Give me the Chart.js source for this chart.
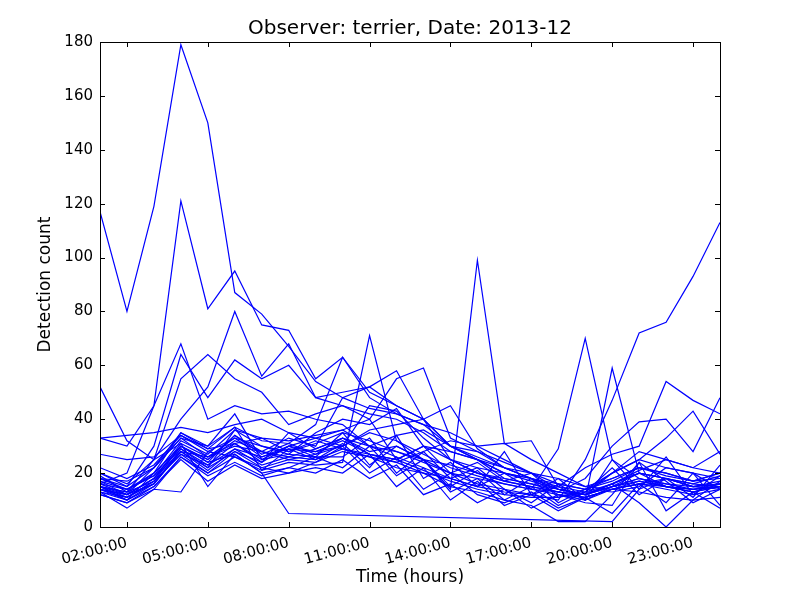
<!DOCTYPE html>
<html>
<head>
<meta charset="utf-8">
<script src="https://cdn.jsdelivr.net/npm/chart.js@4/dist/chart.umd.min.js"></script>
<style>
  html, body { margin: 0; padding: 0; background: #fff; }
  #wrap { width: 800px; height: 600px; }
</style>
</head>
<body>
<div id="wrap"><canvas id="chart" width="800" height="600"></canvas></div>
<script>
// ─── Data ─────────────────────────────────────────────
const hours   = [1, 2, 3, 4, 5, 6, 7, 8, 9, 10, 11, 12, 13, 14, 15, 16, 17, 18, 19, 20, 21, 22, 23, 24]
const xTicks  = [2, 5, 8, 11, 14, 17, 20, 23]
const yTicks  = [0, 20, 40, 60, 80, 100, 120, 140, 160, 180]

const d01 = [117, 80, 119, 179, 150, 87, 79, 67, 54, 48, 44, 42, 38, 35, 30, 25, 20, 18, 15, 14, 16, 15, 13, 15]
const d02 = [16, 20, 45, 121, 81, 95, 75, 73, 55, 63, 50, 45, 40, 30, 28, 22, 18, 14, 12, 16, 20, 18, 15, 16]
const d03 = [52, 32, 25, 40, 52, 80, 56, 68, 48, 45, 42, 40, 35, 28, 25, 22, 20, 16, 14, 18, 22, 20, 17, 18]
const d04 = [33, 30, 45, 68, 40, 45, 42, 43, 40, 38, 30, 34, 36, 30, 25, 20, 18, 15, 13, 20, 25, 22, 20, 18]
const d05 = [18, 15, 30, 64, 48, 62, 55, 60, 48, 50, 52, 45, 40, 30, 26, 22, 18, 12, 10, 15, 20, 18, 16, 15]
const d06 = [15, 13, 25, 55, 64, 55, 50, 38, 42, 45, 40, 55, 59, 33, 28, 24, 20, 14, 12, 20, 28, 25, 22, 20]
const d07 = [20, 15, 22, 33, 26, 30, 28, 25, 27, 30, 35, 32, 25, 14, 99, 31, 32, 15, 10, 14, 16, 14, 12, 14]
const d08 = [14, 10, 20, 30, 25, 32, 28, 26, 29, 33, 30, 26, 22, 18, 15, 20, 14, 29, 70, 25, 18, 15, 13, 16]
const d09 = [17, 12, 18, 28, 22, 28, 24, 30, 26, 26, 33, 20, 28, 18, 22, 14, 9, 16, 10, 59, 20, 15, 14, 15]
const d10 = [15, 13, 20, 30, 24, 34, 27, 31, 27, 33, 28, 30, 25, 20, 16, 14, 12, 10, 25, 47, 72, 76, 93, 113]
const d11 = [13, 11, 17, 27, 20, 28, 22, 25, 24, 28, 26, 22, 20, 18, 15, 13, 12, 15, 22, 27, 30, 54, 47, 42]
const d12 = [18, 14, 19, 32, 27, 36, 30, 28, 31, 35, 32, 28, 24, 20, 18, 16, 14, 13, 18, 30, 39, 40, 28, 48]
const d13 = [14, 11, 16, 29, 23, 31, 25, 27, 26, 35, 23, 30, 25, 15, 21, 12, 18, 9, 14, 20, 25, 33, 43, 27]
const d14 = [16, 12, 18, 31, 26, 33, 26, 29, 28, 32, 27, 25, 21, 17, 14, 12, 11, 11, 13, 16, 9, 0, 10, 17]
const d15 = [19, 13, 17, 30, 24, 27, 20, 5, null, null, null, null, null, null, null, null, null, null, null, 2, 14, 18, 15, 16]
const d16 = [15, 10, 16, 28, 21, 29, 23, 26, 25, 29, 27, 24, 20, 15, 13, 10, 8, 2, 2, 12, 24, 17, 9, 14]
const d17 = [12, 9, 15, 26, 20, 26, 21, 24, 23, 24, 71, 32, 27, 22, 19, 16, 14, 12, 11, 14, 17, 15, 13, 15]
const d18 = [17, 14, 20, 35, 29, 37, 32, 31, 38, 63, 48, 42, 38, 30, 25, 20, 17, 14, 12, 16, 20, 18, 16, 19]
const d19 = [14, 12, 18, 30, 25, 34, 28, 33, 30, 48, 52, 58, 40, 25, 20, 17, 15, 13, 12, 15, 18, 16, 14, 16]
const d20 = [15, 11, 17, 27, 23, 29, 26, 30, 28, 30, 36, 38, 40, 45, 29, 22, 18, 14, 12, 15, 17, 15, 14, 15]
const d21 = [33, 34, 35, 37, 35, 38, 40, 35, 33, 30, 45, 43, 33, 25, 22, 20, 18, 16, 14, 13, 15, 22, 20, 14]
const d22 = [13, 7, 14, 26, 19, 24, 19, 22, 20, 25, 18, 23, 12, 16, 9, 14, 7, 12, 9, 8, 24, 6, 13, 7]
const d23 = [15, 12, 22, 35, 30, 42, 25, 30, 33, 36, 30, 28, 25, 23, 20, 18, 16, 13, 11, 14, 16, 18, 15, 17]
const d24 = [20, 16, 25, 31, 15, 27, 20, 22, 26, 22, 30, 19, 25, 13, 18, 10, 15, 8, 13, 22, 12, 18, 11, 23]
const d25 = [12, 9, 14, 13, 28, 26, 22, 20, 24, 30, 20, 26, 14, 20, 12, 9, 13, 7, 11, 14, 13, 11, 10, 11]
const d26 = [16, 14, 19, 29, 22, 36, 33, 32, 34, 36, 40, 25, 30, 20, 24, 17, 20, 11, 14, 17, 22, 20, 17, 20]
const d27 = [18, 17, 22, 33, 30, 37, 21, 29, 25, 31, 22, 34, 18, 24, 15, 28, 12, 18, 10, 25, 14, 26, 12, 19]
const d28 = [14, 12, 16, 28, 26, 31, 24, 35, 29, 33, 27, 25, 30, 28, 25, 18, 16, 14, 12, 15, 18, 16, 15, 14]
const d29 = [27, 25, 26, 34, 29, 31, 33, 28, 32, 29, 26, 24, 28, 32, 30, 31, 25, 20, 15, 18, 22, 19, 17, 20]
const d30 = [13, 10, 15, 25, 17, 23, 18, 20, 22, 20, 27, 15, 22, 10, 17, 8, 12, 6, 11, 5, 16, 9, 20, 8]
const d31 = [22, 18, 23, 34, 28, 33, 30, 27, 35, 40, 38, 44, 30, 25, 20, 17, 15, 13, 12, 16, 21, 25, 22, 28]

const days = [d01, d02, d03, d04, d05, d06, d07, d08, d09, d10, d11, d12, d13, d14, d15, d16,
              d17, d18, d19, d20, d21, d22, d23, d24, d25, d26, d27, d28, d29, d30, d31]

// ─── Frame + inward ticks (matplotlib style) ──────────
const frame = {
  id: 'frame',
  afterDatasetsDraw(chart) {
    const { ctx, chartArea: a, scales: { x, y } } = chart
    const len = 5
    ctx.save()
    ctx.strokeStyle = '#000'
    ctx.lineWidth = 1
    ctx.beginPath()
    xTicks.forEach(v => {
      const px = Math.round(x.getPixelForValue(v)) + 0.5
      ctx.moveTo(px, a.bottom); ctx.lineTo(px, a.bottom - len)
      ctx.moveTo(px, a.top);    ctx.lineTo(px, a.top + len)
    })
    yTicks.forEach(v => {
      const py = Math.round(y.getPixelForValue(v)) + 0.5
      ctx.moveTo(a.left, py);  ctx.lineTo(a.left + len, py)
      ctx.moveTo(a.right, py); ctx.lineTo(a.right - len, py)
    })
    ctx.stroke()
    ctx.strokeRect(Math.round(a.left) + 0.5, Math.round(a.top) + 0.5,
                   Math.round(a.right - a.left), Math.round(a.bottom - a.top))
    ctx.restore()
  }
}

const FONT = 'DejaVu Sans'

// ─── Chart ────────────────────────────────────────────
new Chart(document.getElementById('chart'), {
  type: 'line',
  data: {
    datasets: days.map((vals, i) => ({
      label: 'Day ' + (i + 1),
      data: vals.map((v, k) => ({ x: hours[k], y: v })),
      borderColor: '#0000ff',
      borderWidth: 1.2,
      pointRadius: 0,
      tension: 0,
      spanGaps: true,
      fill: false
    }))
  },
  options: {
    responsive: false,
    animation: false,
    devicePixelRatio: 1,
    layout: { padding: { left: 20, right: 0, top: 0, bottom: 0 } },
    scales: {
      x: {
        type: 'linear',
        min: 1,
        max: 24,
        afterBuildTicks: s => { s.ticks = xTicks.map(v => ({ value: v })) },
        afterFit: s => { s.height = 73 },
        grid: { display: false, drawTicks: false },
        border: { display: false },
        ticks: {
          autoSkip: false,
          minRotation: 15,
          maxRotation: 15,
          padding: 7,
          color: '#000',
          font: { family: FONT, size: 15 },
          callback: v => String(v).padStart(2, '0') + ':00:00'
        },
        title: {
          display: true,
          text: 'Time (hours)',
          color: '#000',
          font: { family: FONT, size: 17 },
          padding: { top: 0, bottom: 12 }
        }
      },
      y: {
        min: 0,
        max: 180,
        afterBuildTicks: s => { s.ticks = yTicks.map(v => ({ value: v })) },
        afterFit: s => { s.width = 80 },
        grid: { display: false, drawTicks: false },
        border: { display: false },
        ticks: {
          padding: 7,
          color: '#000',
          font: { family: FONT, size: 15 }
        },
        title: {
          display: true,
          text: 'Detection count',
          color: '#000',
          font: { family: FONT, size: 17 },
          padding: { top: 15, bottom: 0 }
        }
      },
      yRight: {
        position: 'right',
        min: 0,
        max: 180,
        afterFit: s => { s.width = 80 },
        grid: { display: false, drawTicks: false },
        border: { display: false },
        ticks: { display: false }
      }
    },
    plugins: {
      legend: { display: false },
      tooltip: { enabled: false },
      title: {
        display: true,
        text: 'Observer: terrier, Date: 2013-12',
        color: '#000',
        font: { family: FONT, size: 20, weight: 'normal' },
        padding: { top: 17, bottom: 1 }
      }
    }
  },
  plugins: [frame]
})
</script>
</body>
</html>
